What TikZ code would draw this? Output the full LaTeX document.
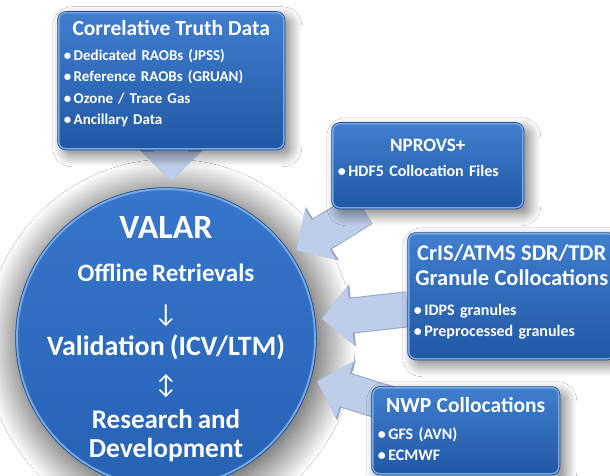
\documentclass[tikz,border=0pt]{standalone}
\usepackage{fontspec}
\setmainfont{Carlito}[WordSpace=0.8]
\usetikzlibrary{arrows.meta,shadows.blur}
\definecolor{boxtop}{RGB}{64,126,206}
\definecolor{boxbot}{RGB}{32,88,164}
\definecolor{boxedge}{RGB}{118,170,230}
\definecolor{boxdark}{RGB}{26,66,128}
\definecolor{ringtop}{RGB}{54,118,204}
\definecolor{ringbot}{RGB}{38,98,180}
\definecolor{arrowfill}{RGB}{190,206,234}
\definecolor{arrowedge}{RGB}{150,166,196}

\pgfdeclarelayer{front}
\pgfsetlayers{main,front}

% title line of a panel: [gap below]{size}{text}
\newcommand{\boxhead}[3][3pt]{{\centering\fontsize{#2}{25}\selectfont #3\par}\vspace{#1}}

\begin{document}
\begin{tikzpicture}[x=1pt, y=-1pt, text=white,
    panel/.style={rectangle, rounded corners=7pt, anchor=north west, align=left, inner xsep=5pt,
        font=\bfseries\fontsize{16}{21.5}\selectfont,
        blur shadow={shadow xshift=6pt, shadow yshift=-6pt, shadow blur radius=12pt, shadow blur steps=20, shadow opacity=55},
        preaction={draw=boxdark, line width=3pt},
        top color=boxtop, bottom color=boxbot, draw=boxedge, line width=1.5pt},
    ring/.style={circle, outer sep=8pt,
        blur shadow={shadow xshift=4pt, shadow yshift=-6pt, shadow blur radius=36pt, shadow blur steps=40, shadow opacity=85},
        preaction={draw=boxdark, line width=3.5pt},
        top color=ringtop, bottom color=ringbot, draw=boxedge, line width=2pt},
    ringtext/.style={align=center, font=\bfseries\fontsize{26}{35}\selectfont},
    fat/.style={arrowfill, line width=34pt, -{Triangle[width=57pt,length=29pt]},
        preaction={draw=arrowedge, line width=36pt, -{Triangle[width=61pt,length=31pt]}}}]

\useasboundingbox (0,0) rectangle (610,476);
\fill[white] (0,0) rectangle (610,476);

% central circle
\node[ring, minimum size=298pt] (valar) at (166,338) {};
\node[ringtext] (valartext) at (166,339) {{\fontsize{34}{34}\selectfont VALAR}\\[8pt]
    {\fontsize{25}{35}\selectfont Offline Retrievals}\\[6pt]
    {\mdseries ↓}\\[-2pt]
    {\fontsize{28}{35}\selectfont Validation (ICV/LTM)}\\[3pt]
    {\mdseries ↕}\\
    {\fontsize{27}{35}\selectfont Research and}\\[-6pt]
    {\fontsize{27.5}{35}\selectfont Development}};

% data sources
\begin{pgfonlayer}{front}
\node[panel, minimum width=225pt, minimum height=136pt, text width=215pt,
    font=\bfseries\fontsize{15}{21.5}\selectfont] (truth) at (58,12) {%
    \boxhead{21.5}{Correlative Truth Data}
    \textbullet\,Dedicated RAOBs (JPSS)\\
    \textbullet\,Reference RAOBs (GRUAN)\\
    \textbullet\,Ozone / Trace Gas\\
    \textbullet\,Ancillary Data\par\vspace*{14pt}};
\node[panel, minimum width=190pt, minimum height=84pt, text width=180pt] (nprovs) at (332,123) {%
    \boxhead{19}{NPROVS+}
    \textbullet\,HDF5 Collocation Files\par\vspace*{16pt}};
\node[panel, minimum width=206pt, minimum height=125pt, inner xsep=3pt, text width=200pt] (cris) at (408,233) {%
    \boxhead[8pt]{22.5}{CrIS/ATMS SDR/TDR\\Granule Collocations}
    \hspace*{2pt}\textbullet\,IDPS granules\\
    \hspace*{2pt}\textbullet\,Preprocessed granules\par\vspace*{8pt}};
\node[panel, minimum width=186pt, minimum height=86pt, text width=176pt,
    font=\bfseries\fontsize{16}{21}\selectfont] (nwp) at (372,387) {%
    \boxhead[6pt]{21.5}{NWP Collocations}
    \textbullet\,GFS (AVN)\\
    \textbullet\,ECMWF\par\vspace*{4pt}};
\end{pgfonlayer}

% block arrows into VALAR
\draw[fat] (truth.south) -- (truth.south |- valar.north);
\draw[fat] ([xshift=31pt]nprovs.south west) -- (valar.34);
\draw[fat] ([yshift=-13pt]cris.west) -- (valar.7);
\draw[fat] ([xshift=18pt,yshift=-17pt]nwp.north west) -- (valar.-16);

\end{tikzpicture}
\end{document}
